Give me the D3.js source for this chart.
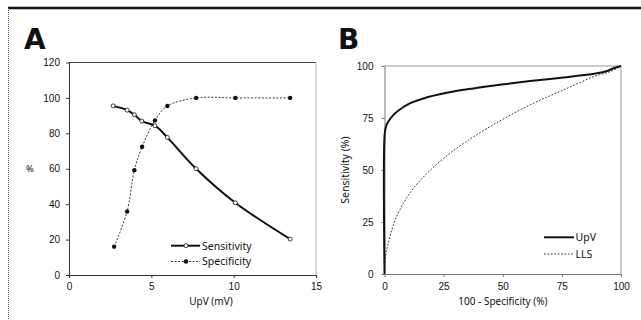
<!DOCTYPE html>
<html>
<head>
<meta charset="utf-8">
<script src="https://cdnjs.cloudflare.com/ajax/libs/d3/7.8.5/d3.min.js"></script>
<style>
  html, body { margin: 0; padding: 0; background: #fff; }
  svg { display: block; font-family: "Noto Sans", "Open Sans", sans-serif; }
  .tick text { fill: #111; }
</style>
</head>
<body>
<svg id="chart" width="641" height="320"></svg>
<script>
// panel A: UpV thresholds (mV) vs %
const upvThresholds = [2.68, 3.53, 3.97, 4.42, 5.22, 5.97, 7.72, 10.1, 13.43];
const sensitivity   = [95.5, 93.1, 90.5, 86.9, 84.3, 77.7, 60.0, 40.8, 20.3];
const specThresholds = [2.74, 3.53, 3.97, 4.44, 5.22, 5.97, 7.72, 10.1, 13.43];
const specificity    = [16.0, 35.9, 59.2, 72.4, 87.3, 95.4, 100, 100, 100];
const ticksA_x = [0, 5, 10, 15];
const ticksA_y = [0, 20, 40, 60, 80, 100, 120];

// panel B: ROC curves (100 - specificity, sensitivity)
const rocUpvX = [0, 0, 0.56, 1.55, 3.7, 6.5, 10.7, 16.4, 26.3, 37.6, 50.3, 61.6, 75.7, 89.8, 94.1, 96.9, 100];
const rocUpvY = [0, 65.9, 70.7, 73.2, 76.4, 79.1, 82.0, 84.4, 87.1, 89.2, 91.2, 92.8, 94.5, 96.5, 97.6, 98.9, 100];
const rocLlsX = [0, 0.85, 2.26, 4.4, 7.9, 12.1, 17.8, 24.9, 33.3, 43.2, 54.5, 65.8, 77.1, 88.4, 95.5, 100];
const rocLlsY = [4, 11.3, 17.7, 25.7, 33.8, 41.0, 48.2, 55.5, 62.7, 69.9, 77.2, 83.6, 89.2, 94.9, 97.3, 100];
const ticksB = [0, 25, 50, 75, 100];

const svg = d3.select("#chart");

// outer frame
svg.append("line").attr("x1", 8).attr("x2", 641).attr("y1", 8).attr("y2", 8)
    .attr("stroke", "#111").attr("stroke-width", 2.5);
svg.append("line").attr("x1", 8.5).attr("x2", 8.5).attr("y1", 8).attr("y2", 320)
    .attr("stroke", "#555").attr("stroke-width", 1).attr("stroke-dasharray", "1,1");

function panelLabel(x, txt) {
    svg.append("text").attr("x", x).attr("y", 49)
        .attr("font-family", "DejaVu Sans, sans-serif")
        .attr("font-weight", "bold").attr("font-size", 28).attr("fill", "#111")
        .text(txt);
}
panelLabel(24, "A");
panelLabel(338, "B");

function styleAxis(g, color) {
    g.select(".domain").attr("stroke", color);
    g.selectAll(".tick line").attr("stroke", color);
    g.selectAll(".tick text").attr("font-size", 10);
}

// ---------- panel A ----------
const xA = d3.scaleLinear().domain([0, 15]).range([69, 316]);
const yA = d3.scaleLinear().domain([0, 120]).range([275, 62.5]);

svg.append("line").attr("x1", 69).attr("x2", 316).attr("y1", 62.5).attr("y2", 62.5)
    .attr("stroke", "#444");
svg.append("line").attr("x1", 316).attr("x2", 316).attr("y1", 62.5).attr("y2", 275)
    .attr("stroke", "#aaa");

const axAx = svg.append("g").attr("transform", "translate(0,275)")
    .call(d3.axisBottom(xA).tickValues(ticksA_x).tickSize(3).tickPadding(5).tickSizeOuter(0));
styleAxis(axAx, "#333");
const axAy = svg.append("g").attr("transform", "translate(69,0)")
    .call(d3.axisLeft(yA).tickValues(ticksA_y).tickSize(3).tickPadding(6).tickSizeOuter(0));
styleAxis(axAy, "#333");

svg.append("text").attr("x", 26).attr("y", 172).attr("font-size", 9.5).attr("fill", "#111").text("%");
svg.append("text").attr("x", 211).attr("y", 305).attr("text-anchor", "middle")
    .attr("font-size", 10).attr("fill", "#111").text("UpV (mV)");

const sensPts = upvThresholds.map((x, i) => [x, sensitivity[i]]);
const specPts = specThresholds.map((x, i) => [x, specificity[i]]);
const lineA = d3.line().x(d => xA(d[0])).y(d => yA(d[1])).curve(d3.curveCatmullRom.alpha(0.5));

svg.append("path").attr("d", lineA(specPts)).attr("fill", "none")
    .attr("stroke", "#222").attr("stroke-width", 0.9).attr("stroke-dasharray", "2,1.6");
svg.append("path").attr("d", lineA(sensPts)).attr("fill", "none")
    .attr("stroke", "#111").attr("stroke-width", 2);

svg.selectAll("circle.spec").data(specPts).join("circle").attr("class", "spec")
    .attr("cx", d => xA(d[0])).attr("cy", d => yA(d[1])).attr("r", 2.2).attr("fill", "#111");
svg.selectAll("circle.sens").data(sensPts).join("circle").attr("class", "sens")
    .attr("cx", d => xA(d[0])).attr("cy", d => yA(d[1])).attr("r", 2)
    .attr("fill", "#fff").attr("stroke", "#111").attr("stroke-width", 0.8);

// legend A
svg.append("line").attr("x1", 171).attr("x2", 200).attr("y1", 245.7).attr("y2", 245.7)
    .attr("stroke", "#111").attr("stroke-width", 2);
svg.append("circle").attr("cx", 186).attr("cy", 245.7).attr("r", 2)
    .attr("fill", "#fff").attr("stroke", "#111").attr("stroke-width", 0.8);
svg.append("text").attr("x", 202).attr("y", 249.5).attr("font-size", 10.5).attr("fill", "#111").text("Sensitivity");
svg.append("line").attr("x1", 171).attr("x2", 200).attr("y1", 261.5).attr("y2", 261.5)
    .attr("stroke", "#222").attr("stroke-width", 0.9).attr("stroke-dasharray", "2,1.6");
svg.append("circle").attr("cx", 186).attr("cy", 261.5).attr("r", 2.2).attr("fill", "#111");
svg.append("text").attr("x", 202).attr("y", 265.3).attr("font-size", 10.5).attr("fill", "#111").text("Specificity");

// ---------- panel B ----------
const xB = d3.scaleLinear().domain([0, 100]).range([384.5, 621]);
const yB = d3.scaleLinear().domain([0, 100]).range([274, 66]);

svg.append("line").attr("x1", 384.5).attr("x2", 621).attr("y1", 66).attr("y2", 66)
    .attr("stroke", "#999");
svg.append("line").attr("x1", 621).attr("x2", 621).attr("y1", 66).attr("y2", 274)
    .attr("stroke", "#999");

const axBx = svg.append("g").attr("transform", "translate(0,274)")
    .call(d3.axisBottom(xB).tickValues(ticksB).tickSize(3).tickPadding(6).tickSizeOuter(0));
styleAxis(axBx, "#777");
const axBy = svg.append("g").attr("transform", "translate(384.5,0)")
    .call(d3.axisLeft(yB).tickValues(ticksB).tickSize(3).tickPadding(8).tickSizeOuter(0));
styleAxis(axBy, "#777");

svg.append("text").attr("transform", "translate(349,170) rotate(-90)").attr("text-anchor", "middle")
    .attr("font-size", 10.5).attr("fill", "#111").text("Sensitivity (%)");
svg.append("text").attr("x", 503).attr("y", 305).attr("text-anchor", "middle")
    .attr("font-size", 10).attr("fill", "#111").text("100 - Specificity (%)");

const lineB = d3.line().x(d => xB(d[0])).y(d => yB(d[1])).curve(d3.curveCatmullRom.alpha(0.5));
const upvPts = rocUpvX.map((x, i) => [x, rocUpvY[i]]);
const llsPts = rocLlsX.map((x, i) => [x, rocLlsY[i]]);

svg.append("path").attr("d", lineB(llsPts)).attr("fill", "none")
    .attr("stroke", "#222").attr("stroke-width", 0.9).attr("stroke-dasharray", "1.8,1.6");
svg.append("path").attr("d", lineB(upvPts)).attr("fill", "none")
    .attr("stroke", "#111").attr("stroke-width", 2);

// legend B
svg.append("line").attr("x1", 544).attr("x2", 574).attr("y1", 237.3).attr("y2", 237.3)
    .attr("stroke", "#111").attr("stroke-width", 2);
svg.append("text").attr("x", 575.5).attr("y", 241).attr("font-size", 10.5).attr("fill", "#111").text("UpV");
svg.append("line").attr("x1", 544).attr("x2", 574).attr("y1", 254).attr("y2", 254)
    .attr("stroke", "#222").attr("stroke-width", 0.9).attr("stroke-dasharray", "1.8,1.6");
svg.append("text").attr("x", 575.5).attr("y", 257.7).attr("font-size", 10.5).attr("fill", "#111").text("LLS");
</script>
</body>
</html>
